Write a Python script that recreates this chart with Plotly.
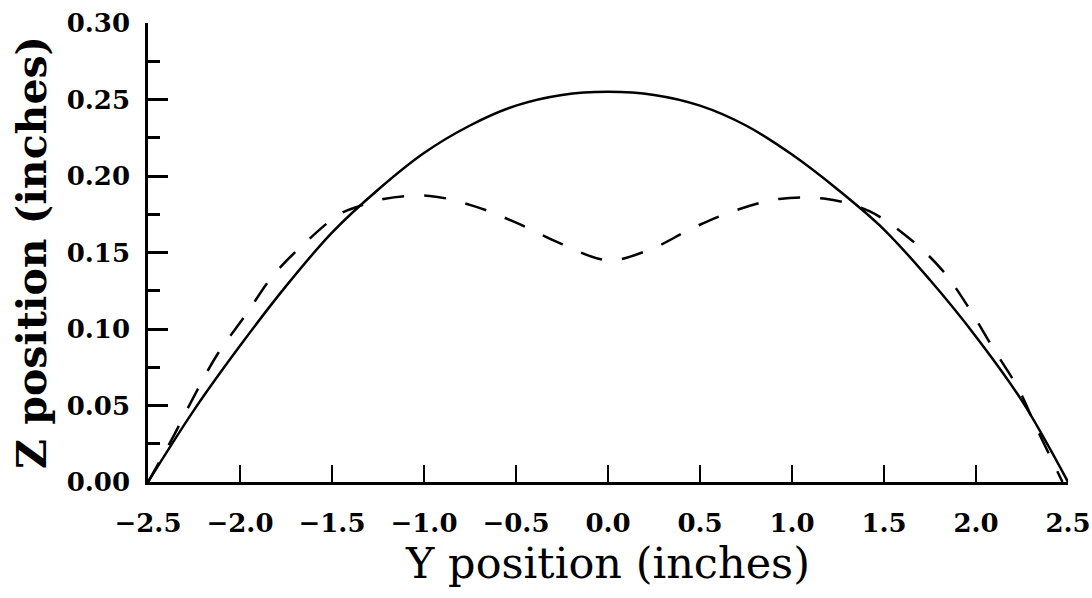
import plotly.graph_objects as go

# Solid curve
solid_y = [-2.5, -2.25, -2.0, -1.75, -1.5, -1.25, -1.0, -0.75, -0.5, -0.25, 0.0,
           0.25, 0.5, 0.75, 1.0, 1.25, 1.5, 1.75, 2.0, 2.25, 2.5]
solid_z = [0.000, 0.047, 0.089, 0.128, 0.163, 0.191, 0.215, 0.233, 0.246, 0.253, 0.255,
           0.253, 0.246, 0.233, 0.214, 0.191, 0.165, 0.132, 0.095, 0.053, 0.000]

# Dashed curve
dash_y = [-2.5, -2.37, -2.25, -2.12, -1.97, -1.82, -1.64, -1.46, -1.36, -1.22, -0.97,
          -0.72, -0.49, -0.26, 0.0, 0.23, 0.46, 0.68, 0.93, 1.19, 1.42, 1.63, 1.82,
          1.96, 2.09, 2.23, 2.33, 2.47]
dash_z = [0.000, 0.028, 0.056, 0.084, 0.109, 0.135, 0.157, 0.175, 0.180, 0.185, 0.187,
          0.180, 0.169, 0.156, 0.145, 0.152, 0.166, 0.177, 0.185, 0.185, 0.177, 0.160, 0.138,
          0.114, 0.088, 0.061, 0.035, 0.000]

x_ticks = [-2.5, -2.0, -1.5, -1.0, -0.5, 0.0, 0.5, 1.0, 1.5, 2.0, 2.5]
x_labels = ["\u22122.5", "\u22122.0", "\u22121.5", "\u22121.0", "\u22120.5", "0.0",
            "0.5", "1.0", "1.5", "2.0", "2.5"]
y_ticks = [0.00, 0.05, 0.10, 0.15, 0.20, 0.25, 0.30]
y_labels = ["0.00", "0.05", "0.10", "0.15", "0.20", "0.25", "0.30"]

fig = go.Figure()
fig.add_trace(go.Scatter(x=solid_y, y=solid_z, mode="lines",
                         line=dict(color="black", width=2.5, shape="spline"),
                         showlegend=False))
fig.add_trace(go.Scatter(x=dash_y, y=dash_z, mode="lines",
                         line=dict(color="black", width=2.5, shape="spline",
                                   dash="22px,20px"),
                         showlegend=False))

tickfont = dict(family="DejaVu Serif", size=26, color="black", weight="bold")

fig.update_layout(
    width=1092, height=598,
    margin=dict(l=148, r=24, t=23, b=116),
    paper_bgcolor="white", plot_bgcolor="white",
    xaxis=dict(
        range=[-2.5, 2.5], showgrid=False, zeroline=False, automargin=False,
        showline=True, linecolor="black", linewidth=2.5,
        tickmode="array", tickvals=x_ticks, ticktext=x_labels,
        ticks="inside", ticklen=17, tickwidth=2, tickcolor="black",
        tickfont=tickfont, ticklabelstandoff=16,
        title=dict(text="Y position (inches)", standoff=0,
                   font=dict(family="DejaVu Serif", size=43, color="black")),
    ),
    yaxis=dict(
        range=[0, 0.30], showgrid=False, zeroline=False, automargin=False,
        showline=True, linecolor="black", linewidth=2.5,
        tickmode="array", tickvals=y_ticks, ticktext=y_labels,
        ticks="inside", ticklen=20, tickwidth=2.5, tickcolor="black",
        minor=dict(dtick=0.025, tick0=0, ticks="inside", ticklen=12,
                   tickwidth=2.5, tickcolor="black", showgrid=False),
        tickfont=tickfont, ticklabelstandoff=10,
        title=dict(text="Z position (inches)", standoff=8,
                   font=dict(family="DejaVu Serif", size=41, color="black",
                             weight="bold")),
    ),
)

fig.write_html("out.html",
               config={"displayModeBar": False},
               post_script="document.body.style.margin='0px';document.body.style.overflow='hidden';")
